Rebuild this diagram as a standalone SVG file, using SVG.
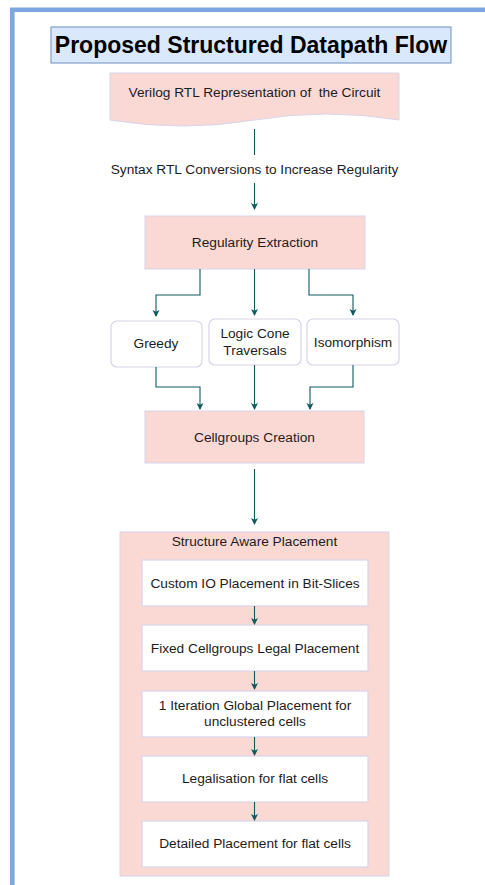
<svg xmlns="http://www.w3.org/2000/svg" width="485" height="885" viewBox="0 0 485 885">
<defs>
<marker id="ah" markerWidth="8" markerHeight="8" refX="6" refY="3.5" orient="auto" markerUnits="userSpaceOnUse">
<path d="M0,0 L7,3.5 L0,7 L1.8,3.5 Z" fill="#0f5a60"/>
</marker>
<style>
text{font-family:"Liberation Sans",Arial,sans-serif;font-size:13.7px;fill:#1c1c1c;text-anchor:middle}
.title{font-size:23px;font-weight:bold;fill:#000}
.pink{fill:#fad9d5;stroke:#d8d4ea;stroke-width:1}
.white{fill:#fff;stroke:#d8d4ea;stroke-width:1.2}
.conn{fill:none;stroke:#0f5a60;stroke-width:1.1}
.arr{marker-end:url(#ah)}
</style>
</defs>
<rect width="485" height="885" fill="#fff"/>
<path d="M12.3,885 V9.7 H485" fill="none" stroke="#7ea6e0" stroke-width="4.6"/>

<g id="title">
<rect x="51" y="27" width="400" height="36" fill="#dae8fc" stroke="#6c8ebf" stroke-width="1"/>
<text class="title" x="251" y="53">Proposed Structured Datapath Flow</text>
</g>

<g id="verilog">
<path class="pink" d="M110,73 H399 V120 Q326.75,108 254.5,120 Q182.25,132 110,120 Z"/>
<text x="254.5" y="96.5">Verilog RTL Representation of&#160; the Circuit</text>
</g>

<g id="syntax">
<text x="254.5" y="174">Syntax RTL Conversions to Increase Regularity</text>
</g>

<g id="regext">
<rect class="pink" x="145" y="216" width="220" height="53"/>
<text x="255" y="247">Regularity Extraction</text>
</g>

<g id="greedy">
<rect class="white" x="111" y="321" width="91" height="46" rx="6"/>
<text x="156" y="348">Greedy</text>
</g>

<g id="logiccone">
<rect class="white" x="209" y="319" width="92" height="46" rx="6"/>
<text x="255" y="338">Logic Cone</text>
<text x="255" y="355">Traversals</text>
</g>

<g id="isomorphism">
<rect class="white" x="307" y="319" width="92" height="46" rx="6"/>
<text x="353" y="347">Isomorphism</text>
</g>

<g id="cellgroups">
<rect class="pink" x="145" y="411" width="219" height="52"/>
<text x="254.5" y="442">Cellgroups Creation</text>
</g>

<g id="sap">
<rect class="pink" x="120" y="532" width="269" height="344"/>
<text x="254.5" y="546">Structure Aware Placement</text>
</g>

<g id="customio">
<rect class="white" x="142" y="560" width="226" height="46"/>
<text x="255" y="588">Custom IO Placement in Bit-Slices</text>
</g>

<g id="fixed">
<rect class="white" x="142" y="625" width="226" height="46"/>
<text x="255" y="653">Fixed Cellgroups Legal Placement</text>
</g>

<g id="global">
<rect class="white" x="142" y="691" width="226" height="46"/>
<text x="255" y="710">1 Iteration Global Placement for</text>
<text x="255" y="726">unclustered cells</text>
</g>

<g id="legal">
<rect class="white" x="142" y="756" width="226" height="46"/>
<text x="255" y="783">Legalisation for flat cells</text>
</g>

<g id="detailed">
<rect class="white" x="142" y="821" width="226" height="46"/>
<text x="255" y="848">Detailed Placement for flat cells</text>
</g>

<g id="connectors">
<path class="conn" d="M254.5,129 V155"/>
<path class="conn arr" d="M254.5,183 V209"/>
<path class="conn arr" d="M200,269 V295 H156 V316"/>
<path class="conn arr" d="M254.5,269 V315"/>
<path class="conn arr" d="M309,269 V295 H353 V315"/>
<path class="conn arr" d="M156,367 V387 H200 V409"/>
<path class="conn arr" d="M254.5,365 V409"/>
<path class="conn arr" d="M353,365 V387 H310 V409"/>
<path class="conn arr" d="M254.5,469 V524"/>
<path class="conn arr" d="M254.5,606 V624"/>
<path class="conn arr" d="M254.5,671 V689"/>
<path class="conn arr" d="M254.5,737 V755"/>
<path class="conn arr" d="M254.5,802 V820"/>
</g>
</svg>
